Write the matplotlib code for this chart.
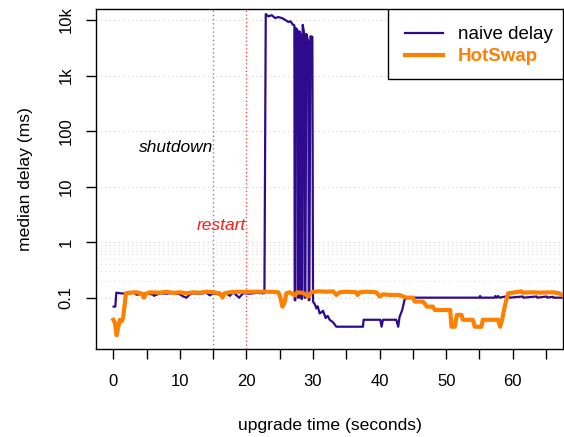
import matplotlib.pyplot as plt
import matplotlib.transforms as mtransforms
from matplotlib.patches import Rectangle

plt.rcParams['font.family'] = ['Liberation Sans', 'DejaVu Sans']

# --- data ---
naive_t = [0.05, 0.3, 0.45, 1.0, 2.0, 3.0, 3.5, 4.0, 5.0, 6.0, 6.1, 7.0, 8.0, 9.0,
           10.0, 10.5, 11.0, 11.5, 12.0, 13.0, 14.0, 14.5, 15.0, 16.0, 17.0, 17.5,
           18.0, 18.9, 19.5, 20.5, 21.5, 22.5, 22.7, 22.9, 23.3, 23.8, 24.3, 24.8,
           25.3, 25.8, 26.3, 26.6, 27.0, 27.2, 27.25, 27.35, 27.4, 27.7, 27.75, 27.9,
           28.0, 28.2, 28.25, 28.35, 28.45, 28.7, 28.75, 28.85, 29.0, 29.3, 29.35,
           29.45, 29.6, 29.9, 30.0, 30.3, 30.5, 30.7, 31.0, 31.3, 31.5, 31.9, 32.2,
           32.5, 33.0, 33.5, 37.5, 37.6, 40.1, 40.3, 40.5, 42.5, 42.8, 43.0, 43.4,
           43.8, 44.5, 55.0, 55.1, 55.2, 57.3, 57.4, 57.6, 57.8, 58.0, 59.3, 59.5,
           61.5, 61.6, 63.6, 63.7, 65.1, 65.2, 66.0, 66.1, 67.5]
naive_ms = [0.069, 0.069, 0.123, 0.12, 0.118, 0.125, 0.113, 0.115, 0.12, 0.113, 0.108, 0.12,
            0.118, 0.122, 0.115, 0.105, 0.1, 0.115, 0.12, 0.118, 0.122, 0.11, 0.12, 0.113,
            0.12, 0.108, 0.125, 0.1, 0.12, 0.118, 0.122, 0.12, 0.12, 12800, 11650, 12200,
            10870, 11300, 10870, 10100, 9200, 9500, 8200, 8000, 0.09, 0.09, 7200, 6500,
            0.1, 0.1, 6200, 5000, 0.095, 0.095, 8200, 5500, 0.1, 0.1, 5600, 4000, 0.09,
            0.09, 5100, 5000, 0.085, 0.075, 0.064, 0.07, 0.052, 0.055, 0.058, 0.043,
            0.047, 0.04, 0.036, 0.030, 0.030, 0.04, 0.04, 0.03, 0.04, 0.04, 0.03, 0.045,
            0.06, 0.097, 0.1, 0.1, 0.107, 0.1, 0.1, 0.107, 0.1, 0.107, 0.1, 0.107, 0.1,
            0.105, 0.1, 0.105, 0.1, 0.105, 0.1, 0.104, 0.1, 0.1]

hotswap_t = [0.0, 0.25, 0.5, 0.75, 1.0, 1.3, 1.5, 1.9, 2.5, 3.5, 4.3, 4.6, 4.9, 5.5, 7.0,
             8.0, 9.0, 10.0, 11.0, 12.0, 13.0, 14.0, 15.0, 16.0, 16.4, 16.7, 17.5, 19.0,
             20.0, 21.0, 22.0, 23.0, 24.0, 24.8, 25.1, 25.4, 25.7, 26.0, 26.5, 27.3, 27.6,
             28.5, 29.3, 29.6, 30.0, 31.0, 32.0, 33.0, 33.5, 34.0, 35.0, 36.5, 36.7, 37.0,
             38.0, 39.5, 40.0, 40.5, 41.5, 43.0, 43.5, 44.1, 45.0, 45.3, 46.5, 46.8, 47.1,
             48.0, 48.3, 50.6, 50.8, 51.3, 51.6, 52.3, 52.5, 54.0, 54.3, 55.3, 55.5, 57.8,
             58.1, 58.4, 58.8, 59.3, 60.0, 61.3, 61.5, 63.0, 64.0, 66.0, 67.0, 67.5]
hotswap_ms = [0.04, 0.035, 0.021, 0.03, 0.04, 0.038, 0.045, 0.12, 0.123, 0.125, 0.118, 0.1,
              0.118, 0.125, 0.123, 0.128, 0.122, 0.125, 0.12, 0.125, 0.123, 0.128, 0.125,
              0.12, 0.1, 0.12, 0.125, 0.128, 0.127, 0.128, 0.128, 0.128, 0.127, 0.125, 0.1,
              0.069, 0.08, 0.12, 0.125, 0.11, 0.125, 0.122, 0.105, 0.12, 0.128, 0.13, 0.128,
              0.13, 0.112, 0.125, 0.128, 0.125, 0.112, 0.125, 0.128, 0.125, 0.105, 0.115,
              0.112, 0.112, 0.105, 0.1, 0.1, 0.085, 0.085, 0.078, 0.069, 0.069, 0.06, 0.06,
              0.03, 0.03, 0.049, 0.049, 0.04, 0.04, 0.03, 0.03, 0.04, 0.04, 0.03, 0.04, 0.07,
              0.12, 0.123, 0.13, 0.123, 0.125, 0.123, 0.125, 0.12, 0.11]

x_ticks = [0, 5, 10, 15, 20, 25, 30, 35, 40, 45, 50, 55, 60, 65]
x_ticklabels = ['0', '', '10', '', '20', '', '30', '', '40', '', '50', '', '60', '']
y_ticks = [0.1, 1, 10, 100, 1000, 10000]
y_ticklabels = ['0.1', '1', '10', '100', '1k', '10k']
y_minor_grid = [0.2, 0.3, 0.4, 0.5, 0.6, 0.7, 0.8, 0.9]
shutdown_t, restart_t = 15, 20

purple = '#2e0a8c'
orange = '#ff8000'

fig = plt.figure(figsize=(5.64, 4.37), dpi=100)
ax = fig.add_axes([96 / 564, 1 - 349 / 437, 467 / 564, 340 / 437])

ax.set_yscale('log')
ax.set_xlim(-2.6, 67.55)
ax.set_ylim(0.0119, 15800)

# grid: dotted horizontal lines
for y in y_ticks:
    ax.axhline(y, color='#cccccc', lw=0.8, ls=(0, (1, 3)), zorder=0)
for y in y_minor_grid:
    ax.axhline(y, color='#dddddd', lw=0.8, ls=(0, (1, 3)), zorder=0)

ax.axvline(shutdown_t, color='#888888', lw=1.0, ls=(0, (1, 2)), zorder=1)
ax.axvline(restart_t, color='#ff3030', lw=0.9, ls=(0, (1, 2)), zorder=1)

ax.plot(naive_t, naive_ms, color=purple, lw=1.6, label='naive delay', zorder=3)
ax.plot(hotswap_t, hotswap_ms, color=orange, lw=3.0, label='HotSwap', zorder=4)

ax.text(shutdown_t, 50, 'shutdown', style='italic', fontsize=12.5, ha='right', va='center')
ax.text(restart_t, 2.0, 'restart', style='italic', fontsize=12.5, ha='right', va='center',
        color='#ff1a1a')

ax.set_xticks(x_ticks)
ax.set_xticklabels(x_ticklabels)
ax.set_yticks(y_ticks)
ax.set_yticklabels(y_ticklabels, rotation=90, va='center')
ax.yaxis.set_minor_locator(plt.NullLocator())
ax.tick_params(axis='both', direction='out', length=7, width=1, labelsize=12)
ax.tick_params(axis='x', pad=11)
ax.tick_params(axis='y', pad=9)

for s in ax.spines.values():
    s.set_linewidth(1.0)

ax.set_xlabel('upgrade time (seconds)', fontsize=12.6)
ax.xaxis.set_label_coords(0.5, -0.204)
ax.set_ylabel('median delay (ms)', fontsize=12.6)
ax.yaxis.set_label_coords(-0.134, 0.5)

# the top tick label is cut at the top edge in the reference
clip = mtransforms.TransformedBbox(mtransforms.Bbox([[0, 0], [1, 1 - 8.5 / 437]]),
                                   fig.transFigure)
for lab in ax.get_yticklabels():
    lab.set_clip_box(clip)
    lab.set_clip_on(True)

# legend box drawn separately (R style: wider left margin than right)
ax.add_patch(Rectangle((292 / 467, 270 / 340), 175 / 467, 70 / 340, transform=ax.transAxes,
                       facecolor='white', edgecolor='black', lw=1.0, zorder=5))
leg = ax.legend(loc='upper left', bbox_to_anchor=(309 / 467, 323 / 340),
                borderaxespad=0, borderpad=0, frameon=False, fontsize=13.5,
                handlelength=2.0, handletextpad=0.83, labelspacing=0.27)
leg.set_zorder(6)
leg_texts = leg.get_texts()
leg_texts[1].set_color(orange)
leg_texts[1].set_fontweight('bold')

fig.savefig('out.png', dpi=100)
